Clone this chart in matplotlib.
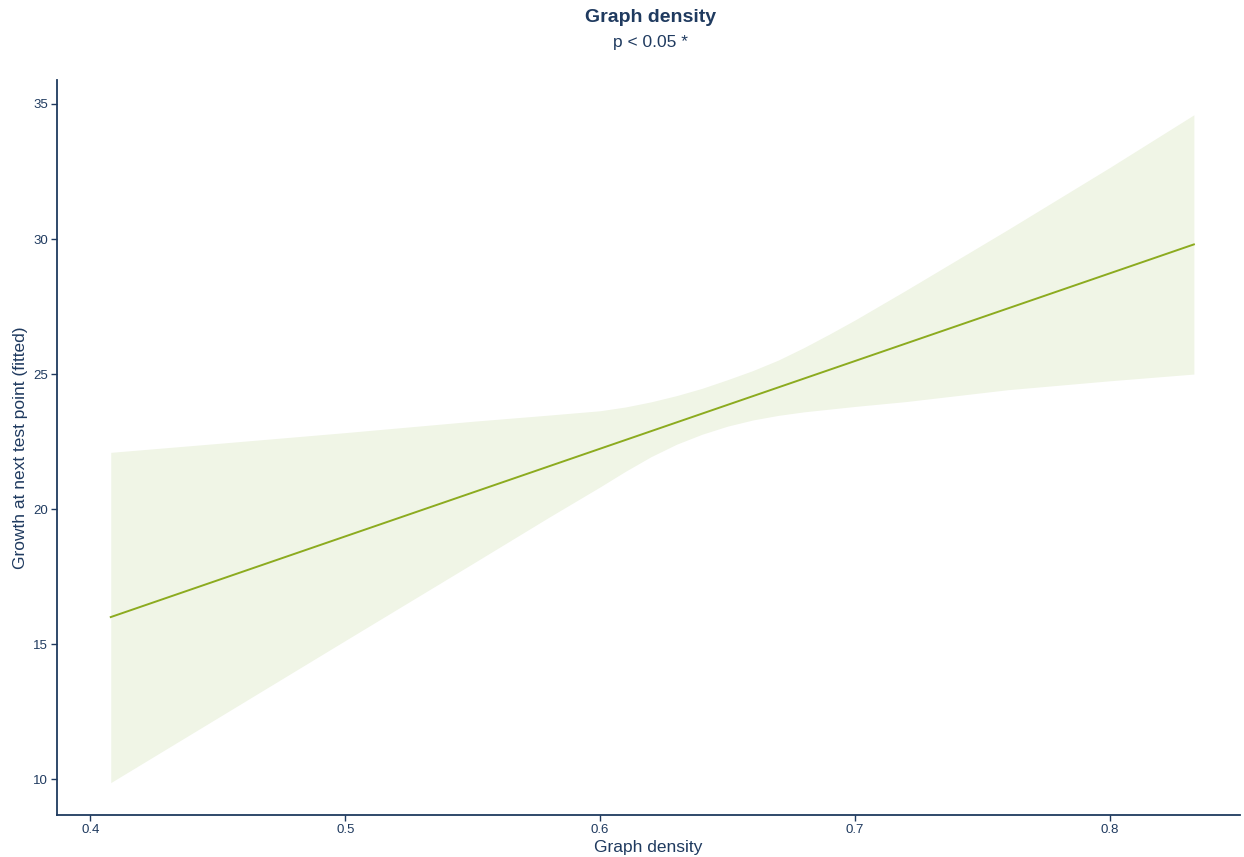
import numpy as np
import matplotlib
matplotlib.use("Agg")
import matplotlib.pyplot as plt

# fitted growth vs graph density, with confidence band
line_x = [0.408, 0.833]
line_y = [16.0, 29.8]

band_x = [0.408, 0.45, 0.50, 0.55, 0.58, 0.60, 0.61, 0.62, 0.63, 0.64,
          0.65, 0.66, 0.67, 0.68, 0.69, 0.70, 0.71, 0.72, 0.76, 0.80, 0.833]
band_upper = [22.10, 22.43, 22.83, 23.25, 23.48, 23.64, 23.78, 23.97, 24.20, 24.47,
              24.79, 25.13, 25.52, 25.98, 26.48, 27.00, 27.55, 28.10, 30.35, 32.65, 34.60]
band_lower = [9.87, 12.27, 15.13, 17.98, 19.70, 20.82, 21.40, 21.94, 22.40, 22.77,
              23.07, 23.30, 23.47, 23.60, 23.70, 23.80, 23.89, 23.98, 24.42, 24.75, 25.00]

x_ticks = [0.4, 0.5, 0.6, 0.7, 0.8]
y_ticks = [10, 15, 20, 25, 30, 35]

navy = "#1f3a5f"
green = "#8cab1f"
fill = "#f0f5e6"

plt.rcParams['font.family'] = ['Liberation Sans', 'DejaVu Sans']

fig = plt.figure(figsize=(12.44, 8.57), dpi=100)
ax = fig.add_axes([0.0458, 0.049, 0.951, 0.8577])

ax.fill_between(band_x, band_lower, band_upper, color=fill, linewidth=0)
ax.plot(line_x, line_y, color=green, linewidth=1.4)

ax.set_xlim(0.3869, 0.8511)
ax.set_ylim(8.67, 35.89)
ax.set_xticks(x_ticks)
ax.set_xticklabels([str(v) for v in x_ticks])
ax.set_yticks(y_ticks)

for side in ["top", "right"]:
    ax.spines[side].set_visible(False)
for side in ["left", "bottom"]:
    ax.spines[side].set_color(navy)
    ax.spines[side].set_linewidth(1.3)
ax.tick_params(colors=navy, labelsize=9.5, length=4.5, width=1, pad=2)

ax.set_xlabel("Graph density", fontsize=12.5, color=navy, labelpad=3)
ax.set_ylabel("Growth at next test point (fitted)", fontsize=12.5, color=navy, labelpad=4)

fig.text(0.523, 0.979, "Graph density", ha="center", va="center",
         fontsize=14, fontweight="bold", color=navy)
fig.text(0.523, 0.95, "p < 0.05 *", ha="center", va="center",
         fontsize=12.5, color=navy)

fig.savefig("out.png", dpi=100)
